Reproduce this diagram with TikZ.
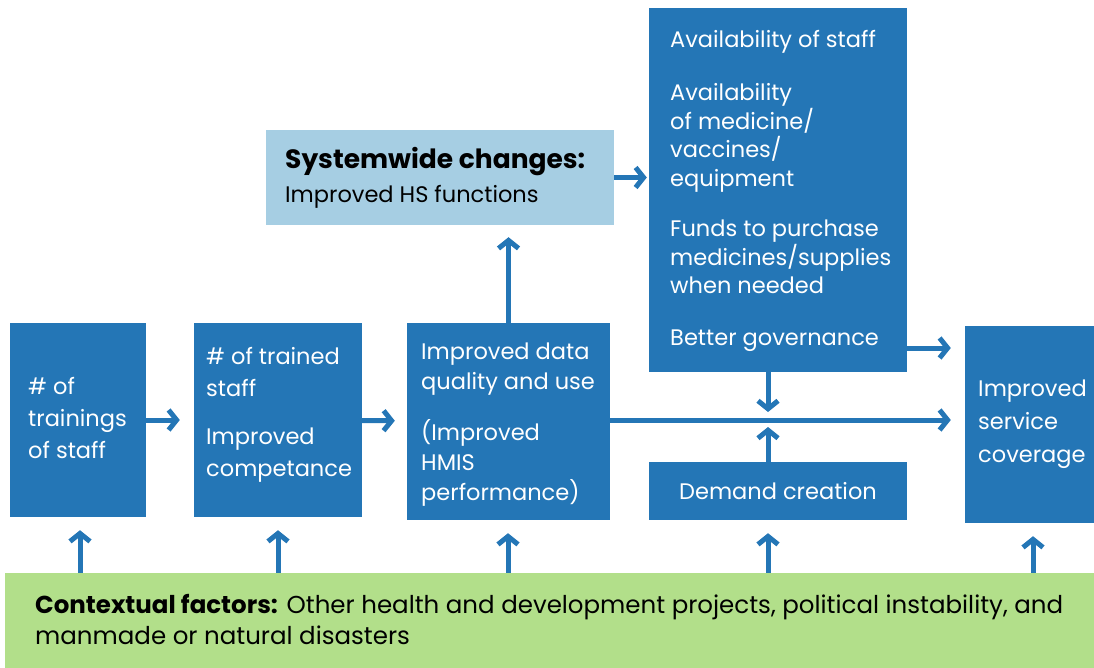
\documentclass[tikz,border=0pt]{standalone}
\usepackage{fontspec}
\setmainfont{Poppins}
\usetikzlibrary{arrows.meta}
\definecolor{boxblue}{RGB}{36,118,182}
\definecolor{lightblue}{RGB}{166,206,227}
\definecolor{lightgreen}{RGB}{178,223,138}

\begin{document}
\begin{tikzpicture}[x=1pt, y=-1pt,
  blk/.style={fill=boxblue, draw=none, inner sep=0pt},
  txt/.style={text=white, align=left, inner sep=0pt, font=\fontsize{22.5}{30}\selectfont},
  arr/.style={boxblue, line width=5pt, -{Straight Barb[length=8pt,width=20pt]}}]
\useasboundingbox (0,0) rectangle (1094,668);

% 方框
\node[blk, minimum width=136pt, minimum height=194pt] (trainings) at (78,420) {};
\node[blk, minimum width=168pt, minimum height=194pt] (trained) at (278,420) {};
\node[blk, minimum width=203pt, minimum height=197pt] (data) at (508.5,421.5) {};
\node[fill=lightblue, minimum width=348pt, minimum height=95pt] (system) at (440,177.5) {};
\node[blk, minimum width=258pt, minimum height=364pt] (avail) at (778,190) {};
\node[blk, minimum width=258pt, minimum height=58pt] (demand) at (778,491) {};
\node[blk, minimum width=129pt, minimum height=197pt] (coverage) at (1029.5,424.5) {};
\node[fill=lightgreen, minimum width=1089pt, minimum height=95pt] (context) at (549.5,620.5) {};

% 文字
\node[txt, anchor=west, font=\fontsize{22.5}{32}\selectfont] (trainingstxt) at (28,418) {\# of\\trainings\\of staff};
\node[txt, anchor=north west, font=\fontsize{22.5}{32}\selectfont] (trainedtxt) at (206,347)
  {\# of trained\\staff\\[16pt]Improved\\competance};
\node[txt, anchor=north west] (datatxt) at (421,343)
  {Improved data\\quality and use\\[21pt](Improved\\HMIS\\performance)};
\node[txt, anchor=north west, font=\fontsize{22.5}{28.5}\selectfont] (availtxt) at (670,30)
  {Availability of staff\\[25pt]Availability\\of medicine/\\vaccines/\\equipment\\[22pt]%
   Funds to purchase\\medicines/supplies\\when needed\\[23pt]Better governance};
\node[txt] (demandtxt) at (demand) {Demand creation};
\node[txt, anchor=west, font=\fontsize{22.5}{33}\selectfont] (coveragetxt) at (978,424)
  {Improved\\service\\coverage};
\node[txt, text=black, anchor=west, font=\fontsize{22.5}{34}\selectfont] (systemtxt) at (285,178)
  {\fontsize{26.5}{34}\selectfont\textbf{Systemwide changes:}\\Improved HS functions};
\node[txt, text=black, anchor=north west, font=\fontsize{24.5}{31}\selectfont] (contexttxt) at (35,594)
  {\textbf{Contextual factors:} Other health and development projects, political instability, and\\
   manmade or natural disasters};

% 箭头
\draw[arr, shorten >=14pt] (trainings) -- (trained);
\draw[arr, shorten >=12pt] (trained) -- (data);
\draw[arr, shorten >=12pt] (data.north) -- (data.north |- system.south);
\draw[arr, shorten >=2pt] (system.east) -- (system.east -| avail.west);
\draw[arr, shorten >=14pt] (avail.east |- 0,348) -- (coverage.west |- 0,348);
\draw[arr, shorten >=14pt] (data.east |- 0,420) -- (coverage.west |- 0,420);
\draw[arr, shorten >=8pt] ([xshift=-10pt]avail.south) -- ([xshift=-10pt]avail.south |- 0,420);
\draw[arr, shorten >=7pt] ([xshift=-10pt]demand.north) -- ([xshift=-10pt]demand.north |- 0,420);
\foreach \n/\dx in {trainings/2, trained/0, data/-0.5, demand/-10, coverage/3.5}
  \draw[arr, shorten >=13pt] ([xshift=\dx pt]\n.south |- context.north) -- ([xshift=\dx pt]\n.south);
\end{tikzpicture}
\end{document}
